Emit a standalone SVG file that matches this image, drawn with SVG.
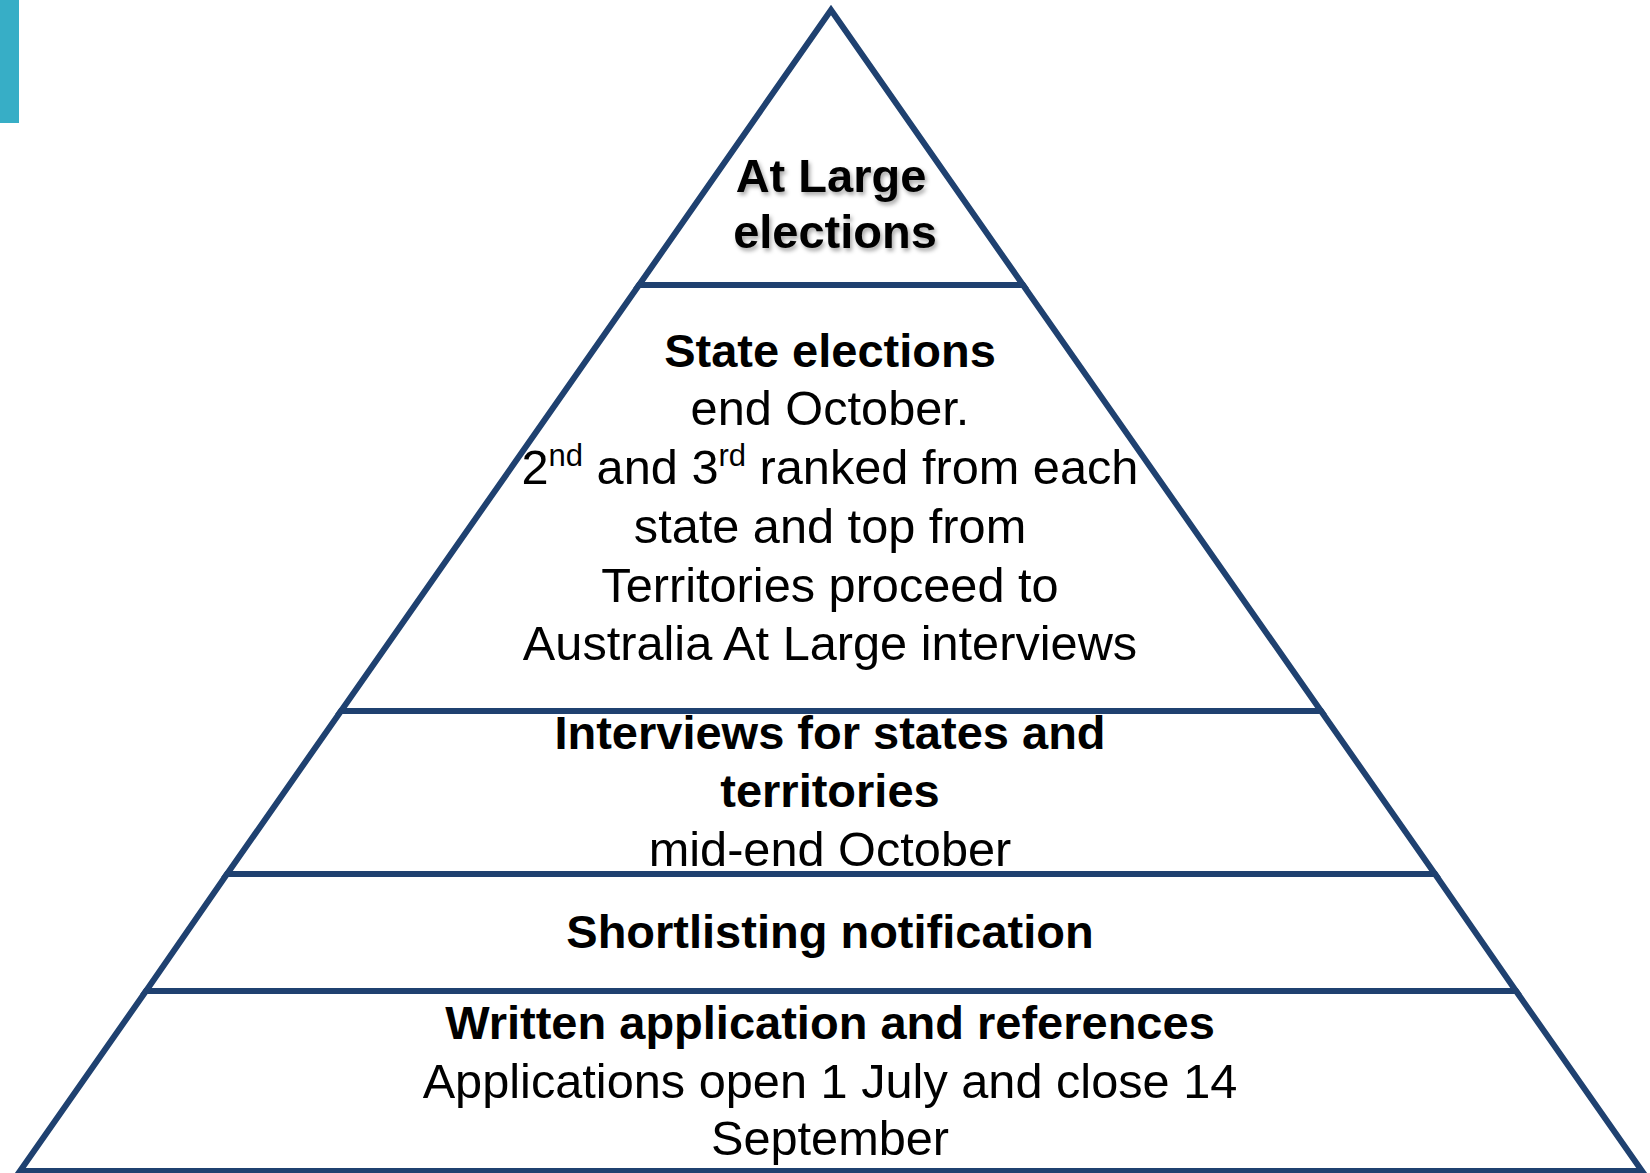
<svg xmlns="http://www.w3.org/2000/svg" width="1650" height="1173" viewBox="0 0 1650 1173">
<defs>
<style>
.lvl{fill:none;stroke:#1F4170;stroke-width:6;stroke-linejoin:miter}
.t{font-family:"Liberation Sans",Arial,sans-serif;font-size:48.7px;fill:#000;text-anchor:middle}
.b{font-weight:bold;font-size:47px}
.sup{font-size:31px}
</style>
<filter id="sh" x="-10%" y="-20%" width="130%" height="150%">
<feDropShadow dx="2" dy="3" stdDeviation="2" flood-color="#000" flood-opacity="0.35"/>
</filter>
</defs>
<rect x="0" y="0" width="1650" height="1173" fill="#fff"/>
<rect x="0" y="0" width="19" height="123" fill="#37AEC6"/>
<g id="connectors"></g>
<g id="level-at-large">
<polygon class="lvl" points="831,10 1023,285 639,285"/>
<text class="t b" filter="url(#sh)" x="831" y="192">At Large</text>
<text class="t b" filter="url(#sh)" x="835" y="248">elections</text>
</g>
<g id="level-state">
<polygon class="lvl" points="639,285 1023,285 1321,711 341,711"/>
<text class="t b" x="830" y="367">State elections</text>
<text class="t" x="830" y="425">end October.</text>
<text class="t" x="830" y="484">2<tspan class="sup" dy="-18">nd</tspan><tspan dy="18"> and 3</tspan><tspan class="sup" dy="-18">rd</tspan><tspan dy="18"> ranked from each</tspan></text>
<text class="t" x="830" y="543">state and top from</text>
<text class="t" x="830" y="602">Territories proceed to</text>
<text class="t" x="830" y="660">Australia At Large interviews</text>
</g>
<g id="level-interviews">
<polygon class="lvl" points="341,711 1321,711 1435,874 227,874"/>
<text class="t b" x="830" y="749">Interviews for states and</text>
<text class="t b" x="830" y="807">territories</text>
<text class="t" x="830" y="866">mid-end October</text>
</g>
<g id="level-shortlisting">
<polygon class="lvl" points="227,874 1435,874 1516,991 146,991"/>
<text class="t b" x="830" y="948">Shortlisting notification</text>
</g>
<g id="level-written">
<polygon class="lvl" points="146,991 1516,991 1642,1171 20,1171"/>
<text class="t b" x="830" y="1039">Written application and references</text>
<text class="t" x="830" y="1098">Applications open 1 July and close 14</text>
<text class="t" x="830" y="1155">September</text>
</g>
</svg>
